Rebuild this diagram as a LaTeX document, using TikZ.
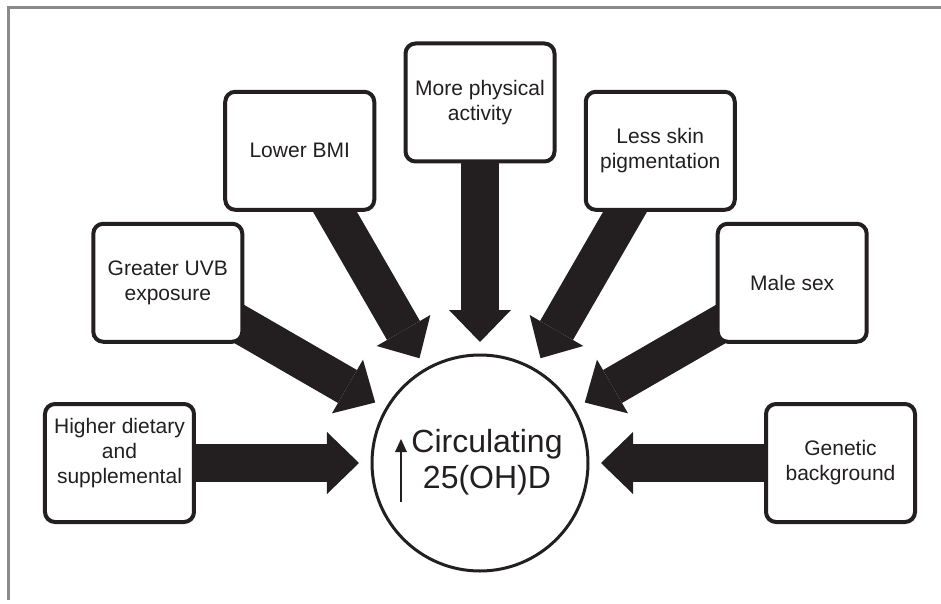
\documentclass[tikz,border=0pt]{standalone}
\usepackage{fontspec}
\setmainfont{Liberation Sans}
\usetikzlibrary{arrows.meta}
\usetikzlibrary{backgrounds}
\definecolor{ink}{HTML}{231F20}
\definecolor{framegray}{HTML}{8A8A8A}
\tikzset{
  factor/.style={draw=ink, line width=4pt, fill=white, rounded corners=10pt, minimum width=149pt, minimum height=118pt, inner sep=0pt, align=center, text=ink, font=\fontsize{21}{25}\selectfont},
  hub/.style={draw=ink, line width=3pt, fill=white, circle, minimum size=216pt, inner sep=0pt},
  hubtext/.style={align=center, text=ink, inner sep=0pt, font=\fontsize{32}{36}\selectfont},
  feed/.style={draw=ink, line width=38pt, shorten >=11.5pt, -{Triangle[width=62pt,length=32pt,line width=0pt]}},
  risemark/.style={draw=ink, line width=2pt, -{Triangle[width=12pt,length=13pt,line width=0pt]}}
}

\begin{document}
\begin{tikzpicture}[x=1pt,y=1pt]
\useasboundingbox (-480,-140) rectangle (461,463);
\draw[framegray, line width=3pt] (-471,-137) -- (-471,455.7) -- (461,455.7);
\node[hub] (hub) at (0,0) {};
\node[hubtext] (hublabel) at ([shift={(7pt,1pt)}]hub.center) {Circulating\\25(OH)D};
\coordinate (risefoot) at ([shift={(-79pt,-39pt)}]hub.center);
\coordinate (risetip) at ([shift={(-79pt,24pt)}]hub.center);
\draw[risemark] (risefoot) -- (risetip);
\node[factor] (dietary) at (180:360.5pt) {Higher dietary\\and\\supplemental\\\mbox{}};
\node[factor] (uvb) at (150:360.5pt) {Greater UVB\\exposure};
\node[factor] (bmi) at (120:360.5pt) {Lower BMI};
\node[factor] (activity) at (90:360.5pt) {More physical\\activity};
\node[factor] (skin) at (60:360.5pt) {Less skin\\pigmentation};
\node[factor] (sex) at (30:360.5pt) {Male sex};
\node[factor] (genetic) at (0:360.5pt) {Genetic\\background};
\begin{scope}[on background layer]
\draw[feed] (dietary.center) -- (hub);
\draw[feed] (uvb.center) -- (hub);
\draw[feed] (bmi.center) -- (hub);
\draw[feed] (activity.center) -- (hub);
\draw[feed] (skin.center) -- (hub);
\draw[feed] (sex.center) -- (hub);
\draw[feed] (genetic.center) -- (hub);
\end{scope}
\end{tikzpicture}
\end{document}
